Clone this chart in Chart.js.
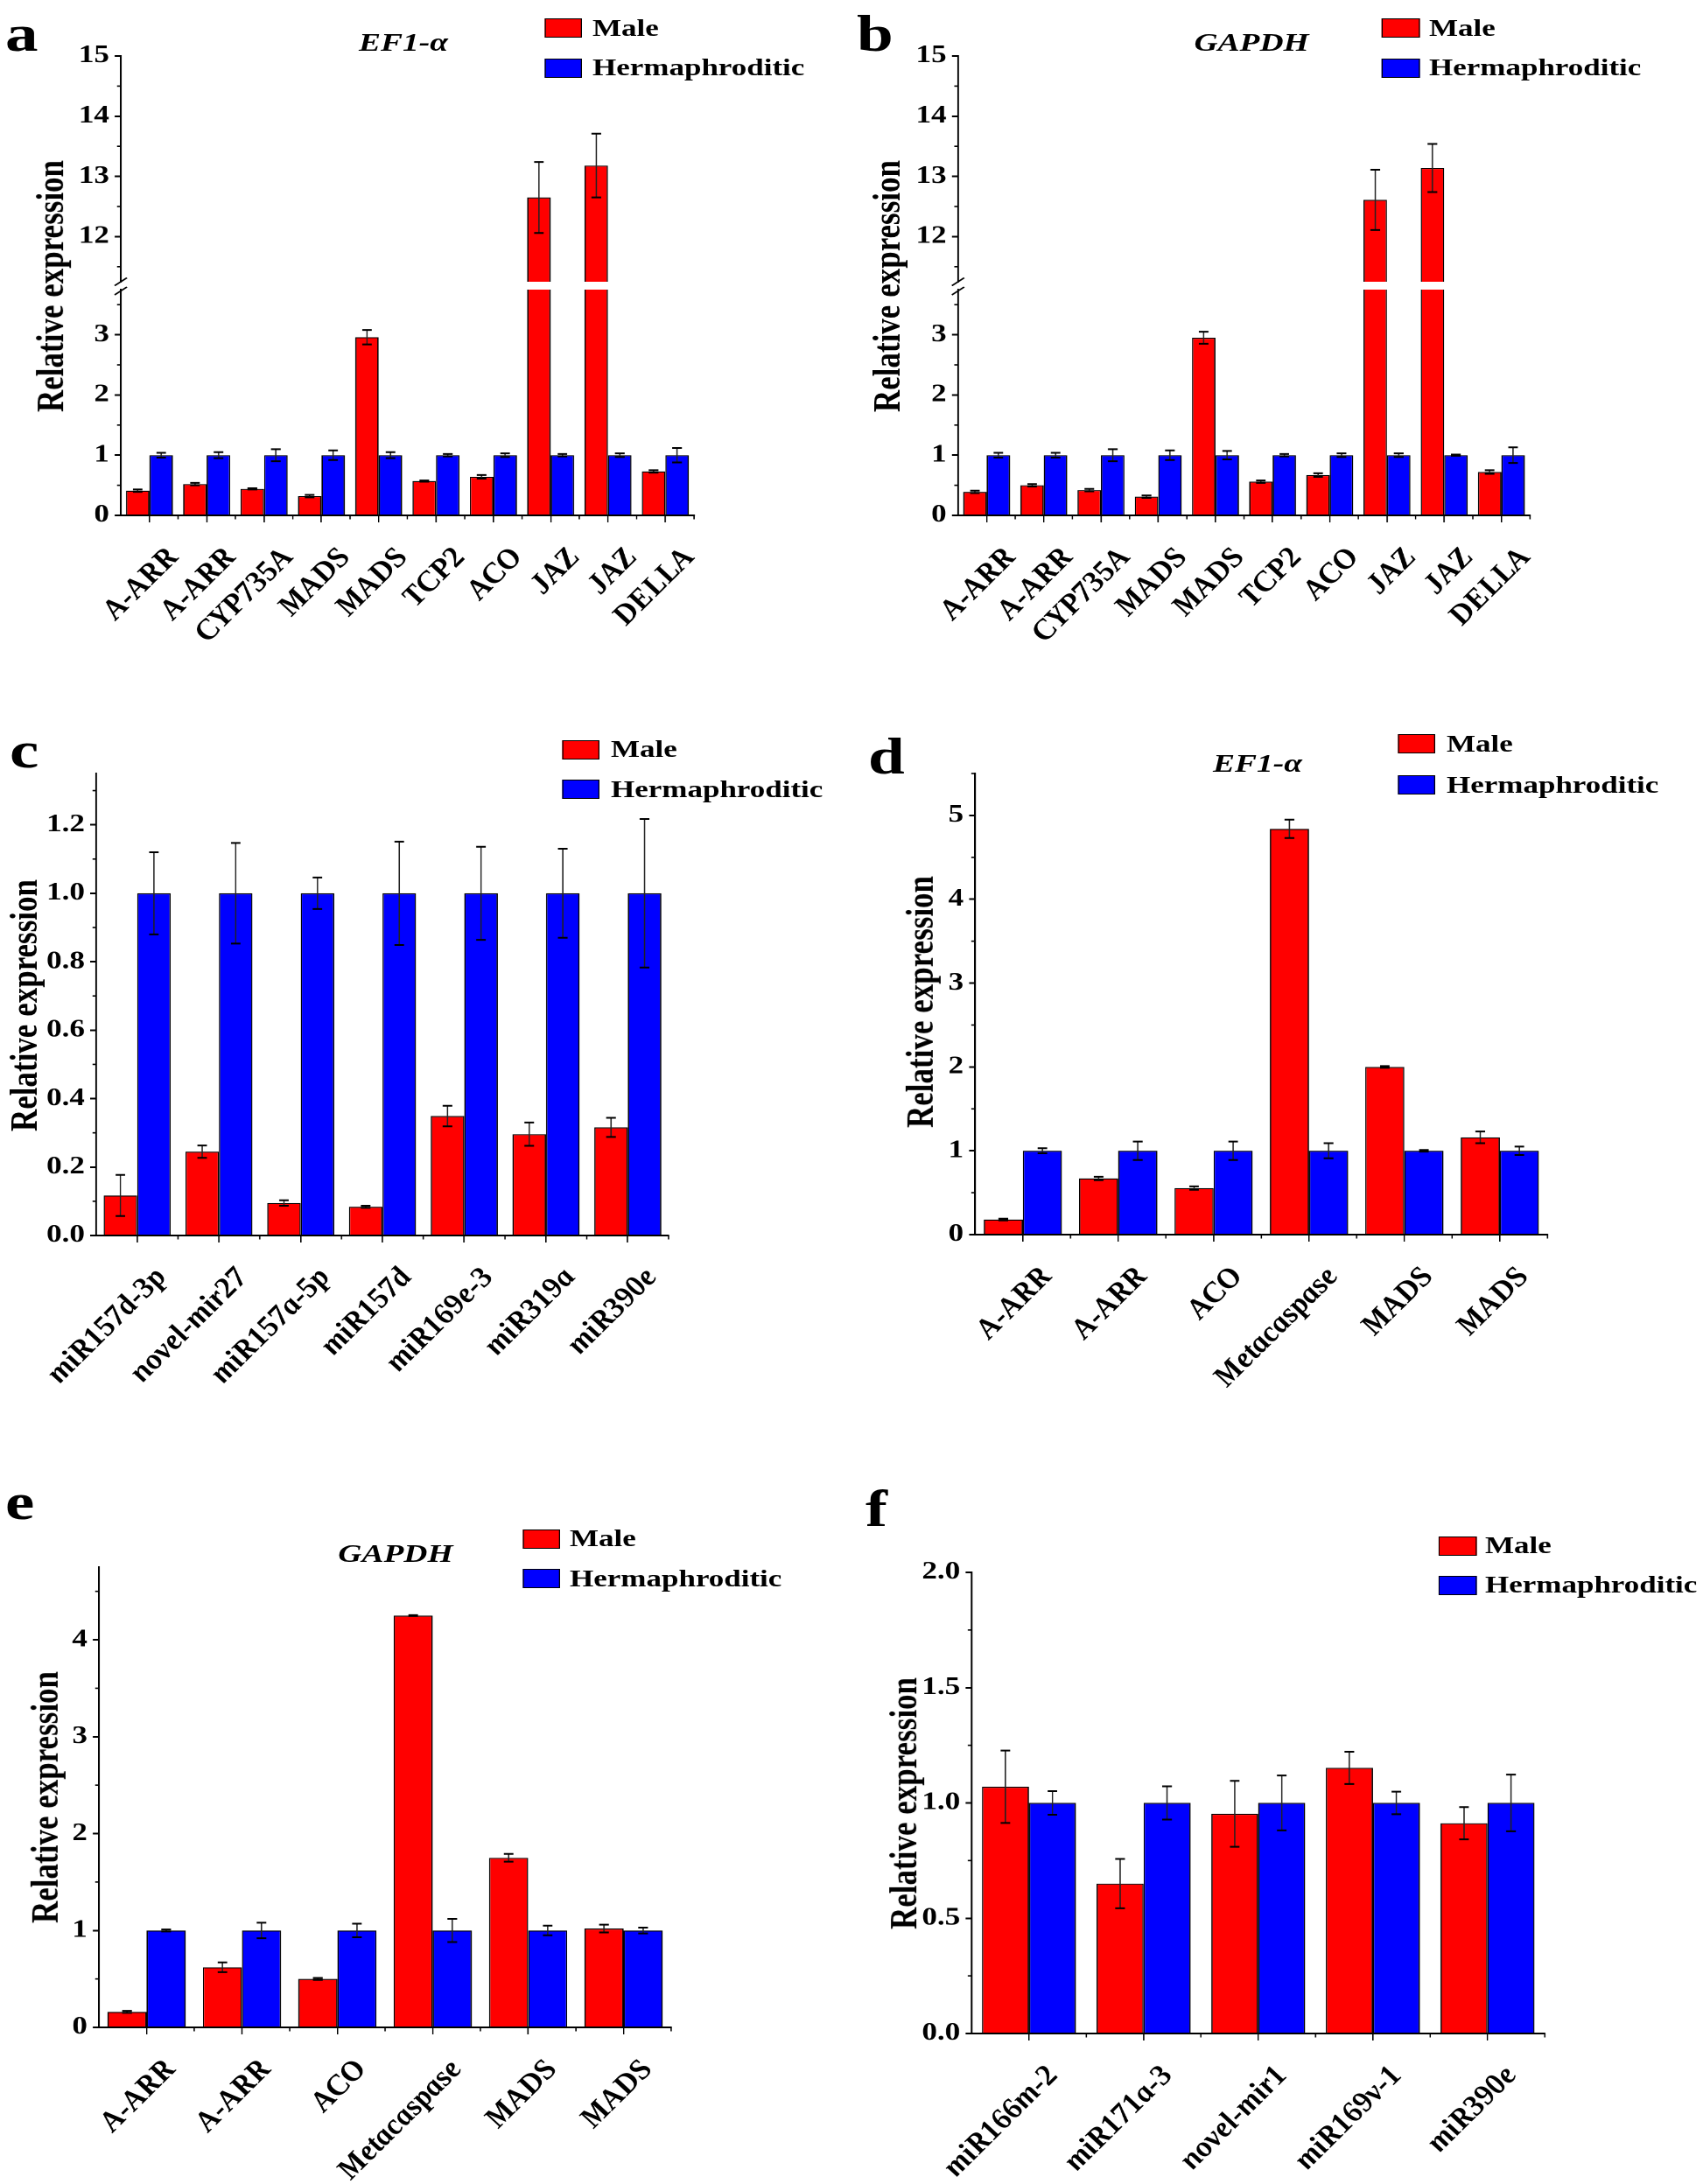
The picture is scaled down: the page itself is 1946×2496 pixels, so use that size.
<!DOCTYPE html>
<html lang="en">
<head>
<meta charset="UTF-8" />
<title>Relative expression - Male vs Hermaphroditic</title>
<script src="https://cdn.jsdelivr.net/npm/chart.js"></script>
<style>
  html, body { margin: 0; padding: 0; background: #fff; }
  body { width: 1946px; height: 2496px; overflow: hidden; position: relative; }
  /* the original figure is stretched sideways, so the whole sheet is drawn narrow and widened */
  #fig {
    position: absolute; left: 0; top: 0;
    width: 1556.8px; height: 2496px;
    transform: scaleX(1.25); transform-origin: 0 0;
    font-family: 'Liberation Serif', 'Times New Roman', serif; color: #000;
  }
  #fig canvas { position: absolute; }
  .txt { position: absolute; font-weight: bold; line-height: 1; white-space: nowrap; }
  .swatch { position: absolute; box-sizing: border-box; border: 1.5px solid #000; }
</style>
</head>
<body>
<div id="fig"></div>

<script>
  // ---- data ----
  const seriesNames = ['Male', 'Hermaphroditic'];
  const seriesColors = ['#ff0000', '#0000ff'];

  const catsAB = ['A-ARR', 'A-ARR', 'CYP735A', 'MADS', 'MADS', 'TCP2', 'ACO', 'JAZ', 'JAZ', 'DELLA'];
  const maleA = [0.41, 0.52, 0.44, 0.32, 2.96, 0.57, 0.64, 12.65, 13.18, 0.73];
  const maleAErr = [0.02, 0.02, 0.01, 0.02, 0.12, 0.01, 0.03, 0.59, 0.53, 0.02];
  const hermA = [1, 1, 1, 1, 1, 1, 1, 1, 1, 1];
  const hermAErr = [0.04, 0.05, 0.10, 0.08, 0.05, 0.02, 0.03, 0.02, 0.03, 0.12];
  const maleB = [0.39, 0.50, 0.42, 0.31, 2.95, 0.56, 0.67, 12.61, 13.14, 0.72];
  const maleBErr = [0.02, 0.02, 0.02, 0.02, 0.10, 0.02, 0.03, 0.50, 0.40, 0.03];
  const hermB = [1, 1, 1, 1, 1, 1, 1, 1, 1, 1];
  const hermBErr = [0.04, 0.04, 0.10, 0.08, 0.07, 0.02, 0.03, 0.03, 0.01, 0.13];
  const ticksABUpper = [12, 13, 14, 15];
  const ticksABLower = [0, 1, 2, 3];

  const catsC = ['miR157d-3p', 'novel-mir27', 'miR157a-5p', 'miR157d', 'miR169e-3', 'miR319a', 'miR390e'];
  const maleC = [0.117, 0.245, 0.095, 0.084, 0.349, 0.296, 0.316];
  const maleCErr = [0.06, 0.018, 0.008, 0.003, 0.03, 0.034, 0.028];
  const hermC = [1, 1, 1, 1, 1, 1, 1];
  const hermCErr = [0.12, 0.147, 0.046, 0.151, 0.136, 0.13, 0.217];
  const ticksC = [0, 0.2, 0.4, 0.6, 0.8, 1.0, 1.2];

  const catsDE = ['A-ARR', 'A-ARR', 'ACO', 'Metacaspase', 'MADS', 'MADS'];
  const maleD = [0.18, 0.67, 0.555, 4.84, 2.0, 1.16];
  const maleDErr = [0.01, 0.02, 0.02, 0.11, 0.01, 0.07];
  const hermD = [1, 1, 1, 1, 1, 1];
  const hermDErr = [0.03, 0.11, 0.11, 0.09, 0.01, 0.05];
  const ticksD = [0, 1, 2, 3, 4, 5];
  const maleE = [0.16, 0.62, 0.50, 4.25, 1.75, 1.02];
  const maleEErr = [0.01, 0.05, 0.01, 0.005, 0.04, 0.04];
  const hermE = [1, 1, 1, 1, 1, 1];
  const hermEErr = [0.01, 0.08, 0.07, 0.12, 0.05, 0.03];
  const ticksE = [0, 1, 2, 3, 4];

  const catsF = ['miR166m-2', 'miR171a-3', 'novel-mir1', 'miR169v-1', 'miR390e'];
  const maleF = [1.07, 0.65, 0.953, 1.152, 0.912];
  const maleFErr = [0.157, 0.107, 0.143, 0.07, 0.07];
  const hermF = [1, 1, 1, 1, 1];
  const hermFErr = [0.051, 0.072, 0.119, 0.049, 0.123];
  const ticksF = [0, 0.5, 1.0, 1.5, 2.0];

  // ---- layout (page px, before the sideways stretch) ----
  const S = 1.25;
  const X = v => v / S;
  const FONT = "'Liberation Serif', 'Times New Roman', serif";
  Chart.defaults.font.family = FONT;
  Chart.defaults.color = '#000';

  const fig = document.getElementById('fig');

  const errorBars = {
    id: 'errorBars',
    afterDatasetsDraw(chart) {
      const { ctx, chartArea: a, scales: { y } } = chart;
      ctx.save();
      ctx.beginPath();
      ctx.rect(a.left, a.top - 1, a.width, a.height + 2);
      ctx.clip();
      chart.data.datasets.forEach((ds, di) => {
        chart.getDatasetMeta(di).data.forEach((bar, i) => {
          const v = ds.data[i], e = ds.errors[i];
          const yt = y.getPixelForValue(v + e), yb = y.getPixelForValue(v - e);
          const w = 4.4;
          ctx.strokeStyle = '#222';
          ctx.lineWidth = 1.2;
          ctx.beginPath(); ctx.moveTo(bar.x, yt); ctx.lineTo(bar.x, yb); ctx.stroke();
          ctx.strokeStyle = '#000';
          ctx.lineWidth = 2;
          ctx.beginPath();
          ctx.moveTo(bar.x - w, yt); ctx.lineTo(bar.x + w, yt);
          ctx.moveTo(bar.x - w, yb); ctx.lineTo(bar.x + w, yb);
          ctx.stroke();
        });
      });
      ctx.restore();
    }
  };

  // minor ticks, category boundary ticks and the axis-break marks
  const axisExtras = {
    id: 'axisExtras',
    afterDraw(chart, args, opts) {
      const { ctx, chartArea: a, scales: { x, y } } = chart;
      ctx.save();
      ctx.strokeStyle = '#000';
      ctx.lineWidth = 1.6;
      const major = y.ticks.map(t => t.value);
      const step = major[1] - major[0];
      for (let v = major[0] - step / 2; v <= y.max + 1e-9; v += step) {
        if (v < y.min - 1e-9) continue;
        const py = y.getPixelForValue(v);
        ctx.beginPath(); ctx.moveTo(a.left - 3.5, py); ctx.lineTo(a.left, py); ctx.stroke();
      }
      if (x.options.display) {
        const n = chart.data.labels.length;
        ctx.lineWidth = 1.2;
        for (let i = 1; i <= n; i++) {
          const px = a.left + i * a.width / n;
          ctx.beginPath(); ctx.moveTo(px, a.bottom); ctx.lineTo(px, a.bottom + 4.5); ctx.stroke();
        }
      }
      if (opts.breakMark) {
        const cy = opts.breakMark === 'bottom' ? a.bottom : a.top + 1.5;
        ctx.lineWidth = 1.6;
        ctx.beginPath(); ctx.moveTo(a.left - 5.6, cy + 4.5); ctx.lineTo(a.left + 5.6, cy - 4.5); ctx.stroke();
      }
      ctx.restore();
    }
  };

  function barChart(p) {
    const [bl, bt, br, bb] = p.box;
    const [px0, py0, px1, py1] = p.plot;
    const cv = document.createElement('canvas');
    cv.width = X(br - bl);
    cv.height = bb - bt;
    cv.style.left = X(bl) + 'px';
    cv.style.top = bt + 'px';
    fig.appendChild(cv);

    return new Chart(cv, {
      type: 'bar',
      data: {
        labels: p.cats,
        datasets: [
          { label: seriesNames[0], data: p.male, errors: p.maleErr, backgroundColor: seriesColors[0] },
          { label: seriesNames[1], data: p.herm, errors: p.hermErr, backgroundColor: seriesColors[1] }
        ]
      },
      options: {
        responsive: false,
        animation: false,
        devicePixelRatio: 2,
        layout: { padding: { left: 0, top: py0 - bt, right: X(br - px1), bottom: p.showX ? 0 : bb - py1 } },
        datasets: { bar: { categoryPercentage: 0.82, barPercentage: 1, borderColor: '#000', borderWidth: 1.2 } },
        plugins: {
          legend: { display: false },
          tooltip: { enabled: false },
          axisExtras: { breakMark: p.breakMark }
        },
        scales: {
          x: {
            display: p.showX,
            offset: true,
            grid: { display: true, drawOnChartArea: false, offset: false, tickLength: 8, color: '#000', lineWidth: 1.2 },
            border: { display: true, color: '#000', width: 2 },
            ticks: {
              autoSkip: false, minRotation: 51, maxRotation: 51,
              padding: 23, labelOffset: 22, color: '#000',
              font: { family: FONT, size: 31, weight: 'bold', style: 'italic' }
            },
            afterFit: s => {
              if (p.showX) s.height = bb - py1;
              s.paddingLeft = 0; s.paddingRight = 0;
            }
          },
          y: {
            min: p.min, max: p.max,
            afterBuildTicks: s => { s.ticks = p.ticks.map(v => ({ value: v })); },
            grid: { drawOnChartArea: false, tickLength: 5.5, color: '#000', lineWidth: 2 },
            border: { display: true, color: '#000', width: 1.6 },
            ticks: {
              padding: 5, color: '#000',
              font: { family: FONT, size: 28, weight: 'bold' },
              callback: v => Number(v).toFixed(p.dec)
            },
            afterFit: s => {
              s.width = X(px0 - bl);
              s.paddingTop = 0; s.paddingBottom = 0;
            }
          }
        }
      },
      plugins: [errorBars, axisExtras]
    });
  }

  const serA = { cats: catsAB, male: maleA, maleErr: maleAErr, herm: hermA, hermErr: hermAErr };
  const serB = { cats: catsAB, male: maleB, maleErr: maleBErr, herm: hermB, hermErr: hermBErr };

  // panel a (broken axis: upper + lower part)
  barChart({ ...serA, box: [0, 0, 970, 327], plot: [138, 64, 793, 322], min: 11.25, max: 15, ticks: ticksABUpper, dec: 0, showX: false, breakMark: 'bottom' });
  barChart({ ...serA, box: [0, 327, 970, 800], plot: [138, 331, 793, 589], min: 0, max: 3.75, ticks: ticksABLower, dec: 0, showX: true, breakMark: 'top' });
  // panel b
  barChart({ ...serB, box: [976, 0, 1946, 327], plot: [1094.5, 64, 1748, 322], min: 11.25, max: 15, ticks: ticksABUpper, dec: 0, showX: false, breakMark: 'bottom' });
  barChart({ ...serB, box: [976, 327, 1946, 800], plot: [1094.5, 331, 1748, 589], min: 0, max: 3.75, ticks: ticksABLower, dec: 0, showX: true, breakMark: 'top' });
  // panel c
  barChart({ cats: catsC, male: maleC, maleErr: maleCErr, herm: hermC, hermErr: hermCErr,
    box: [0, 860, 970, 1660], plot: [110, 884, 764, 1412], min: 0, max: 1.35, ticks: ticksC, dec: 1, showX: true });
  // panel d
  barChart({ cats: catsDE, male: maleD, maleErr: maleDErr, herm: hermD, hermErr: hermDErr,
    box: [976, 860, 1946, 1660], plot: [1114, 884, 1768, 1411], min: 0, max: 5.5, ticks: ticksD, dec: 0, showX: true });
  // panel e
  barChart({ cats: catsDE, male: maleE, maleErr: maleEErr, herm: hermE, hermErr: hermEErr,
    box: [0, 1770, 970, 2496], plot: [113, 1791, 767, 2317], min: 0, max: 4.75, ticks: ticksE, dec: 0, showX: true });
  // panel f
  barChart({ cats: catsF, male: maleF, maleErr: maleFErr, herm: hermF, hermErr: hermFErr,
    box: [976, 1770, 1946, 2496], plot: [1110, 1797, 1765, 2324], min: 0, max: 2, ticks: ticksF, dec: 1, showX: true });

  // ---- texts around the plots ----
  function addText(str, x, yBase, size, extra) {
    const d = document.createElement('div');
    d.className = 'txt';
    d.textContent = str;
    d.style.fontSize = size + 'px';
    d.style.left = X(x) + 'px';
    d.style.top = (yBase - 0.8375 * size) + 'px';
    Object.assign(d.style, extra || {});
    fig.appendChild(d);
    return d;
  }

  const panelLetters = [['a', 6, 58], ['b', 979, 58], ['c', 11, 877], ['d', 992, 884], ['e', 6, 1736], ['f', 989, 1744]];
  panelLetters.forEach(([t, x, y]) => addText(t, x, y, 60));

  const geneTitles = [['EF1-α', 461, 58], ['GAPDH', 1430, 58], ['EF1-α', 1437, 882], ['GAPDH', 452, 1785]];
  geneTitles.forEach(([t, x, y]) => addText(t, x, y, 30, { fontStyle: 'italic', transform: 'translateX(-50%)' }));

  // y axis titles: centre x, centre y
  const yTitles = [[57, 327], [1013.5, 327], [28, 1149], [1051, 1145], [51, 2054], [1032, 2061]];
  yTitles.forEach(([x, y]) => {
    const d = document.createElement('div');
    d.className = 'txt';
    d.textContent = 'Relative expression';
    d.style.fontSize = '35px';
    d.style.left = X(x) + 'px';
    d.style.top = y + 'px';
    d.style.transform = 'translate(-50%, -50%) rotate(-90deg)';
    fig.appendChild(d);
  });

  // legends: box left, row 1 centre, row 2 centre, text left
  const legends = [[622, 32, 77.5, 677], [1579, 32, 77.5, 1633], [642, 856.5, 902, 698],
                   [1597, 850, 897, 1653], [597, 1758.5, 1804, 651], [1644, 1766.5, 1811.5, 1697]];
  legends.forEach(([bx, c1, c2, tx]) => {
    [c1, c2].forEach((cy, k) => {
      const sw = document.createElement('div');
      sw.className = 'swatch';
      sw.style.left = X(bx) + 'px';
      sw.style.top = (cy - 11) + 'px';
      sw.style.width = X(43) + 'px';
      sw.style.height = '22px';
      sw.style.background = seriesColors[k];
      fig.appendChild(sw);
      addText(seriesNames[k], tx, cy + 0.331 * 28, 28);
    });
  });
</script>
</body>
</html>
